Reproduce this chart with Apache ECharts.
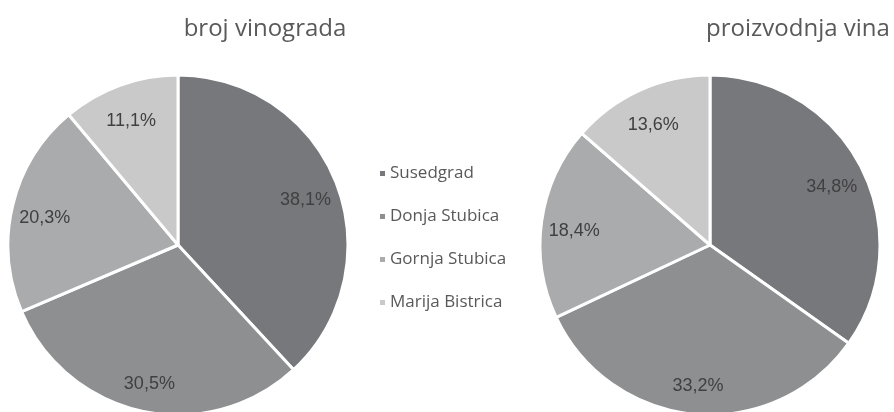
<!DOCTYPE html>
<html>
<head>
<meta charset="utf-8">
<script src="https://cdn.jsdelivr.net/npm/echarts@6/dist/echarts.min.js"></script>
<style>
  html, body { margin: 0; padding: 0; background: #fff; }
  #chart { width: 894px; height: 412px; }
</style>
</head>
<body>
<div id="chart"></div>
<script>
var categories = ['Susedgrad', 'Donja Stubica', 'Gornja Stubica', 'Marija Bistrica']
var vinogradi = [38.1, 30.5, 20.3, 11.1]
var vino = [34.8, 33.2, 18.4, 13.6]
var colors = ['#76787b', '#8e8f91', '#aaabac', '#c8c9c8']

var chart = echarts.init(document.getElementById('chart'))

function toData(values) {
  return categories.map(function (name, i) {
    return { name: name, value: values[i] }
  })
}

function fmt(p) {
  return p.value.toFixed(1).replace('.', ',') + '%'
}

// visible pie, no labels
function piePart(center, values) {
  return {
    type: 'pie',
    center: center,
    radius: 170,
    startAngle: 90,
    clockwise: true,
    animation: false,
    label: { show: false },
    labelLine: { show: false },
    itemStyle: { borderColor: '#fff', borderWidth: 3 },
    emphasis: { disabled: true },
    data: toData(values)
  }
}

// transparent copy, only to place labels further out than the middle
function labelPart(center, values) {
  return {
    type: 'pie',
    center: center,
    radius: 268,
    startAngle: 90,
    clockwise: true,
    animation: false,
    silent: true,
    z: 5,
    label: {
      show: true,
      position: 'inside',
      formatter: fmt,
      color: '#404040',
      fontFamily: 'Liberation Sans',
      fontSize: 18
    },
    labelLayout: { dy: 5 },
    labelLine: { show: false },
    itemStyle: { color: 'transparent', borderWidth: 0 },
    emphasis: { disabled: true },
    data: toData(values)
  }
}

chart.setOption({
  backgroundColor: '#fff',
  color: colors,
  title: [{
    text: 'broj vinograda',
    left: 260,
    top: 12,
    textAlign: 'center',
    textStyle: { color: '#595959', fontSize: 24, fontWeight: 'normal', fontFamily: 'Open Sans' }
  }, {
    text: 'proizvodnja vina',
    left: 793,
    top: 12,
    textAlign: 'center',
    textStyle: { color: '#595959', fontSize: 24, fontWeight: 'normal', fontFamily: 'Open Sans' }
  }],
  legend: {
    orient: 'vertical',
    left: 373,
    top: 160,
    icon: 'rect',
    itemWidth: 7,
    itemHeight: 7,
    itemGap: 26,
    selectedMode: false,
    data: categories,
    textStyle: { color: '#595959', fontSize: 17, fontFamily: 'Open Sans', padding: [0, 0, 0, -1] }
  },
  series: [
    piePart([178, 245], vinogradi),
    labelPart([178, 245], vinogradi),
    piePart([710, 245], vino),
    labelPart([710, 245], vino)
  ]
})
</script>
</body>
</html>
